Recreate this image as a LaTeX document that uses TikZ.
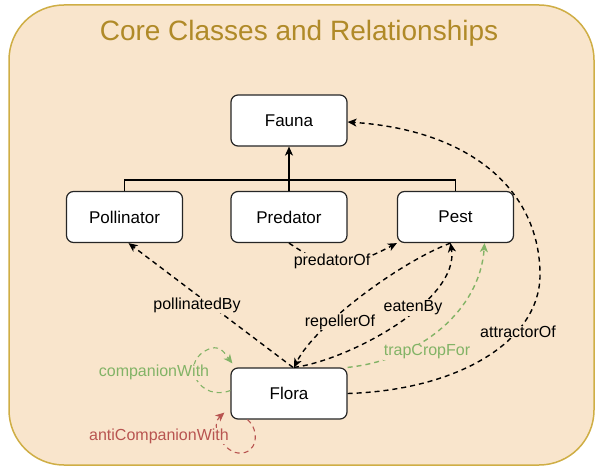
\documentclass[tikz,border=0pt]{standalone}
\usepackage{fontspec}
\setmainfont{Liberation Sans}
\usetikzlibrary{arrows.meta}
\definecolor{bgfill}{HTML}{F9E5CC}
\definecolor{bgline}{HTML}{CFAE45}
\definecolor{titlecol}{HTML}{B08A28}
\definecolor{grn}{HTML}{82B366}
\definecolor{rd}{HTML}{B85450}
\begin{document}
\begin{tikzpicture}[x=1pt,y=-1pt,
  box/.style={draw=black!85, fill=white, rounded corners=7pt, minimum width=116pt,
    minimum height=51pt, line width=1.2pt, font=\fontsize{17}{20}\selectfont, inner sep=0pt},
  lbl/.style={fill=bgfill, inner sep=0.5pt, font=\fontsize{16}{19}\selectfont},
  dline/.style={dash pattern=on 5pt off 4pt, line width=1.4pt},
  tip/.style={-{Stealth[length=9pt,width=8pt,inset=2.5pt]}}
]
\useasboundingbox (0,0) rectangle (596,468);
\draw[fill=bgfill, draw=bgline, line width=1.5pt, rounded corners=55pt] (9,5) rectangle (594,465);
\node[font=\fontsize{28}{32}\selectfont, text=titlecol] (title) at (299,33) {Core Classes and Relationships};

\node[box] (fauna) at (289,120.5) {Fauna};
\node[box] (poll) at (124.5,217) {Pollinator};
\node[box] (pred) at (289,217) {Predator};
\node[box] (pest) at (455.5,217) {Pest};
\node[box] (flora) at (289,393.5) {Flora};

% hierarchy
\coordinate (jn) at (289,180);
\draw[line width=1.3pt] (poll.north) |- (jn);
\draw[line width=1.3pt] (pest.north) |- (jn);
\draw[line width=1.3pt] (pred.north) -- (jn);
\draw[line width=1.3pt, tip] (jn) -- (fauna.south);

% predatorOf
\draw[dline, tip] (pred.south) .. controls (325,267) and (340,273) .. (pest.south west);
% pollinatedBy
\draw[dline, tip] ([xshift=4pt]flora.north) -- ([xshift=4pt]poll.south);
% repellerOf
\draw[dline, tip] ([xshift=-5pt]pest.south) .. controls (400,262) and (315,325) .. ([xshift=5pt]flora.north);
% eatenBy
\draw[dline, tip] ([xshift=5pt]flora.north) .. controls (350,360) and (460,300) .. ([xshift=-5pt]pest.south);
% trapCropFor
\draw[dline, grn, tip] (flora.north east) .. controls (420,360) and (480,310) .. ([xshift=29pt]pest.south);
% attractorOf
\draw[dline, tip] (flora.east) .. controls (460,390) and (540,340) .. (540,275)
  .. controls (540,190) and (470,130) .. ([yshift=-1.5pt]fauna.east);
% companionWith
\draw[dline, grn, line width=1.1pt, tip] ([yshift=3pt]flora.west) .. controls (200,402) and (180,365) .. (205,351)
  .. controls (220,342) and (225,354) .. ([shift={(2pt,4pt)}]flora.north west);
% antiCompanionWith
\draw[dline, rd, line width=1.1pt, tip] ([xshift=17pt]flora.south west) .. controls (260,430) and (258,455) .. (238,453)
  .. controls (222,451) and (210,425) .. ([shift={(-6pt,7pt)}]flora.south west);

% labels
\node[lbl] (lpoll) at (197,305) {pollinatedBy};
\node[lbl] (lpred) at (332,261) {predatorOf};
\node[lbl] (lrep) at (340,322) {repellerOf};
\node[lbl] (leat) at (413,308) {eatenBy};
\node[lbl, text=grn] (ltrap) at (427,352) {trapCropFor};
\node[lbl] (lattr) at (518,332) {attractorOf};
\node[lbl, text=grn] (lcomp) at (154,372) {companionWith};
\node[lbl, text=rd] (lanti) at (159,436) {antiCompanionWith};
\end{tikzpicture}
\end{document}
